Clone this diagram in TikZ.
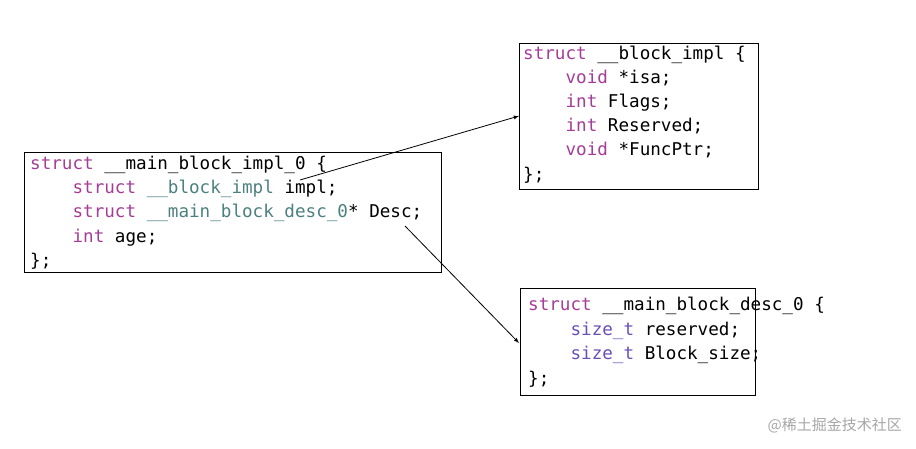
\documentclass[tikz,border=0pt]{standalone}
\usepackage{fontspec}
\setmonofont{DejaVu Sans Mono}
\newfontfamily\cjk{Noto Sans CJK SC}
\definecolor{kw}{HTML}{A53C97}
\definecolor{ty}{HTML}{4C8080}
\definecolor{st}{HTML}{6A50B4}
\newcommand{\K}[1]{\textcolor{kw}{#1}}
\newcommand{\T}[1]{\textcolor{ty}{#1}}
\newcommand{\Sz}[1]{\textcolor{st}{#1}}
\begin{document}
\begin{tikzpicture}[x=1pt,y=-1pt,
  box/.style={draw,line width=0.8pt},
  ln/.style={anchor=base west,inner sep=0pt,font=\ttfamily\fontsize{17.6}{20}\selectfont},
  arr/.style={-latex,line width=0.8pt}]
\useasboundingbox (0,0) rectangle (916,449);
% left box
\draw[box] (24,152) rectangle (441,272);
\node[ln] (l1) at (30,170) {\K{struct} \_\_main\_block\_impl\_0 \{};
\node[ln] (l2) at (30,194) {\phantom{xxxx}\K{struct} \T{\_\_block\_impl} impl;};
\node[ln] (l3) at (30,218) {\phantom{xxxx}\K{struct} \T{\_\_main\_block\_desc\_0}* Desc;};
\node[ln] (l4) at (30,243) {\phantom{xxxx}\K{int} age;};
\node[ln] (l5) at (30,267) {\};};
% top right
\draw[box] (519,43) rectangle (758,189);
\node[ln] (a1) at (523,60) {\K{struct} \_\_block\_impl \{};
\node[ln] (a2) at (523,84) {\phantom{xxxx}\K{void} *isa;};
\node[ln] (a3) at (523,108) {\phantom{xxxx}\K{int} Flags;};
\node[ln] (a4) at (523,132) {\phantom{xxxx}\K{int} Reserved;};
\node[ln] (a5) at (523,156) {\phantom{xxxx}\K{void} *FuncPtr;};
\node[ln] (a6) at (523,181) {\};};
% bottom right
\draw[box] (520,288) rectangle (755,395);
\node[ln] (b1) at (528,310) {\K{struct} \_\_main\_block\_desc\_0 \{};
\node[ln] (b2) at (528,335) {\phantom{xxxx}\Sz{size\_t} reserved;};
\node[ln] (b3) at (528,359) {\phantom{xxxx}\Sz{size\_t} Block\_size;};
\node[ln] (b4) at (528,384) {\};};
% arrows
\coordinate (s1) at (300,180);
\coordinate (e1) at (519,116);
\coordinate (s2) at (405,226);
\coordinate (e2) at (519,343);
\draw[arr] (s1) -- (e1);
\draw[arr] (s2) -- (e2);
\node[anchor=base east,inner sep=0pt,text=gray!70,font=\cjk\fontsize{15}{18}\selectfont] (wm) at (902,430) {@稀土掘金技术社区};
\end{tikzpicture}
\end{document}
